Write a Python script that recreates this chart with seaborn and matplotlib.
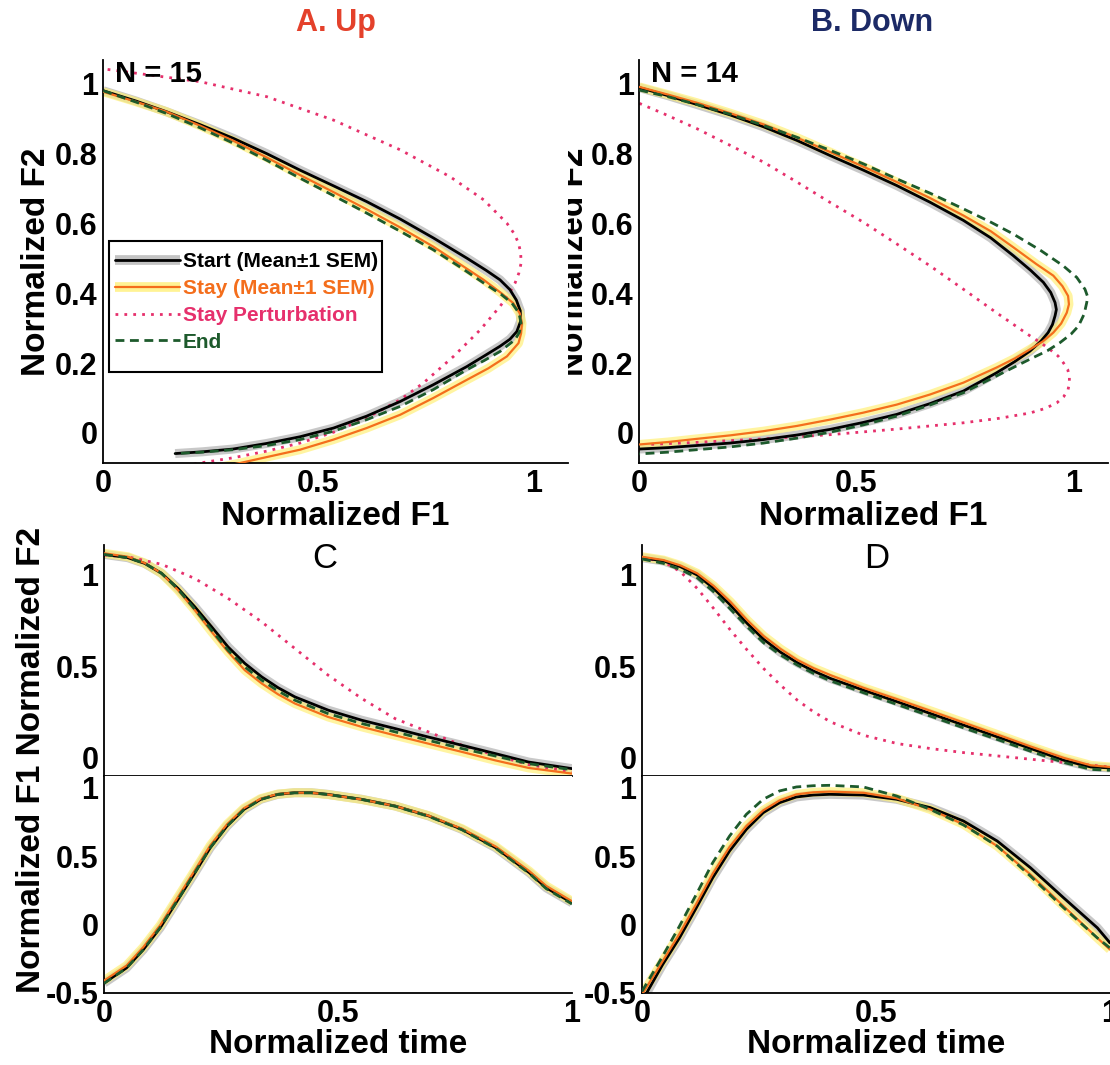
import matplotlib
matplotlib.use("Agg")
import matplotlib.pyplot as plt
from matplotlib.lines import Line2D
from matplotlib.patches import Rectangle
import seaborn as sns

# ---------------- data ----------------
# Panel A (Up): F1 vs F2 trajectories
A_start_f1 = [0, 0.075, 0.147, 0.225, 0.302, 0.380, 0.457, 0.535, 0.612, 0.690, 0.767, 0.845, 0.890, 0.922, 0.945, 0.960, 0.969, 0.970, 0.961, 0.945, 0.922, 0.885, 0.845, 0.767, 0.690, 0.612, 0.535, 0.457, 0.380, 0.302, 0.230, 0.167]
A_start_f2 = [0.979, 0.950, 0.919, 0.882, 0.843, 0.799, 0.752, 0.707, 0.662, 0.612, 0.558, 0.500, 0.465, 0.438, 0.410, 0.380, 0.350, 0.320, 0.290, 0.268, 0.248, 0.220, 0.190, 0.138, 0.090, 0.048, 0.014, -0.011, -0.030, -0.046, -0.054, -0.059]
A_stay_f1 = [0, 0.075, 0.147, 0.225, 0.302, 0.380, 0.457, 0.535, 0.612, 0.690, 0.767, 0.830, 0.884, 0.925, 0.953, 0.968, 0.973, 0.971, 0.965, 0.938, 0.895, 0.845, 0.767, 0.690, 0.612, 0.535, 0.457, 0.380, 0.318, 0.225]
A_stay_f2 = [0.976, 0.948, 0.919, 0.879, 0.836, 0.788, 0.738, 0.689, 0.640, 0.588, 0.533, 0.482, 0.438, 0.400, 0.371, 0.342, 0.314, 0.285, 0.257, 0.219, 0.185, 0.152, 0.100, 0.052, 0.014, -0.019, -0.048, -0.069, -0.086, -0.110]
A_end_f1 = [0, 0.075, 0.147, 0.225, 0.302, 0.380, 0.457, 0.535, 0.612, 0.690, 0.767, 0.830, 0.884, 0.925, 0.950, 0.966, 0.971, 0.967, 0.957, 0.922, 0.885, 0.845, 0.767, 0.690, 0.612, 0.535, 0.457, 0.380, 0.302, 0.230, 0.167]
A_end_f2 = [0.979, 0.947, 0.914, 0.873, 0.829, 0.780, 0.729, 0.679, 0.629, 0.577, 0.524, 0.474, 0.429, 0.396, 0.371, 0.343, 0.314, 0.288, 0.267, 0.233, 0.207, 0.181, 0.124, 0.076, 0.038, 0.005, -0.019, -0.036, -0.048, -0.055, -0.059]
A_pert_f1 = [0.01, 0.225, 0.380, 0.535, 0.690, 0.806, 0.884, 0.938, 0.955, 0.965, 0.970, 0.971, 0.966, 0.957, 0.942, 0.922, 0.876, 0.814, 0.744, 0.690, 0.612, 0.535, 0.457, 0.380, 0.302, 0.225, 0.186]
A_pert_f2 = [1.040, 1.005, 0.962, 0.895, 0.810, 0.733, 0.667, 0.600, 0.570, 0.543, 0.515, 0.486, 0.458, 0.429, 0.396, 0.362, 0.295, 0.219, 0.143, 0.095, 0.043, 0.002, -0.029, -0.052, -0.071, -0.086, -0.095]

# Panel B (Down)
B_start_f1 = [0, 0.066, 0.132, 0.209, 0.286, 0.363, 0.439, 0.516, 0.593, 0.670, 0.747, 0.810, 0.862, 0.902, 0.931, 0.948, 0.958, 0.961, 0.958, 0.952, 0.942, 0.925, 0.900, 0.865, 0.823, 0.747, 0.670, 0.593, 0.516, 0.439, 0.363, 0.286, 0.209, 0.132, 0.066, 0]
B_start_f2 = [0.988, 0.965, 0.940, 0.910, 0.876, 0.837, 0.794, 0.752, 0.708, 0.660, 0.608, 0.558, 0.507, 0.465, 0.431, 0.402, 0.373, 0.353, 0.335, 0.310, 0.287, 0.262, 0.234, 0.204, 0.172, 0.120, 0.084, 0.053, 0.030, 0.010, -0.006, -0.019, -0.029, -0.036, -0.042, -0.046]
B_stay_f1 = [0, 0.066, 0.132, 0.209, 0.286, 0.363, 0.439, 0.516, 0.593, 0.670, 0.747, 0.810, 0.862, 0.915, 0.954, 0.975, 0.988, 0.990, 0.985, 0.972, 0.954, 0.930, 0.900, 0.865, 0.823, 0.747, 0.670, 0.593, 0.516, 0.439, 0.363, 0.286, 0.209, 0.132, 0.066, 0]
B_stay_f2 = [0.990, 0.968, 0.945, 0.915, 0.883, 0.845, 0.804, 0.762, 0.718, 0.672, 0.622, 0.577, 0.531, 0.483, 0.450, 0.420, 0.392, 0.368, 0.344, 0.313, 0.287, 0.262, 0.239, 0.213, 0.187, 0.144, 0.110, 0.081, 0.058, 0.038, 0.020, 0.005, -0.007, -0.017, -0.026, -0.033]
B_end_f1 = [0, 0.066, 0.132, 0.209, 0.286, 0.363, 0.439, 0.516, 0.593, 0.670, 0.747, 0.810, 0.862, 0.925, 0.977, 1.008, 1.027, 1.033, 1.031, 1.025, 1.012, 0.995, 0.969, 0.940, 0.900, 0.823, 0.747, 0.670, 0.593, 0.516, 0.439, 0.363, 0.286, 0.209, 0.132, 0.066, 0]
B_end_f2 = [0.981, 0.962, 0.940, 0.912, 0.880, 0.846, 0.809, 0.770, 0.727, 0.686, 0.641, 0.603, 0.569, 0.522, 0.478, 0.445, 0.411, 0.390, 0.373, 0.340, 0.306, 0.283, 0.258, 0.235, 0.211, 0.163, 0.115, 0.080, 0.048, 0.023, 0.002, -0.015, -0.029, -0.040, -0.048, -0.055, -0.060]
B_pert_f1 = [0, 0.055, 0.132, 0.209, 0.286, 0.363, 0.439, 0.516, 0.593, 0.670, 0.747, 0.823, 0.900, 0.925, 0.946, 0.965, 0.977, 0.987, 0.991, 0.991, 0.988, 0.978, 0.962, 0.935, 0.900, 0.830, 0.747, 0.593, 0.439, 0.286, 0.132, 0.017]
B_pert_f2 = [0.943, 0.914, 0.871, 0.823, 0.775, 0.718, 0.660, 0.603, 0.541, 0.478, 0.411, 0.344, 0.278, 0.258, 0.239, 0.220, 0.201, 0.182, 0.163, 0.143, 0.124, 0.104, 0.086, 0.070, 0.057, 0.042, 0.029, 0.011, -0.005, -0.017, -0.027, -0.033]

# Panel C (Up) time courses
C_t = [0, 0.051, 0.087, 0.123, 0.158, 0.194, 0.230, 0.265, 0.301, 0.337, 0.372, 0.408, 0.479, 0.551, 0.622, 0.693, 0.765, 0.836, 0.907, 1.0]
C_f2_start = [1.107, 1.089, 1.058, 1.004, 0.922, 0.822, 0.713, 0.604, 0.514, 0.441, 0.382, 0.332, 0.260, 0.205, 0.160, 0.114, 0.069, 0.024, -0.022, -0.058]
C_f2_stay = [1.113, 1.094, 1.060, 1.004, 0.913, 0.804, 0.686, 0.577, 0.477, 0.405, 0.346, 0.296, 0.223, 0.169, 0.123, 0.078, 0.033, -0.013, -0.054, -0.085]
C_f2_end = [1.107, 1.089, 1.058, 1.004, 0.918, 0.809, 0.695, 0.586, 0.495, 0.423, 0.364, 0.314, 0.241, 0.187, 0.142, 0.096, 0.051, 0.011, -0.031, -0.064]
C_pert_t = [0, 0.051, 0.123, 0.194, 0.265, 0.337, 0.408, 0.479, 0.551, 0.622, 0.693, 0.765, 0.836, 0.907, 1.0]
C_f2_pert = [1.103, 1.094, 1.053, 0.976, 0.868, 0.740, 0.595, 0.450, 0.323, 0.214, 0.142, 0.069, 0.015, -0.036, -0.076]
C_t1 = [0, 0.048, 0.084, 0.120, 0.156, 0.192, 0.227, 0.263, 0.299, 0.335, 0.371, 0.407, 0.443, 0.478, 0.550, 0.622, 0.694, 0.765, 0.837, 0.909, 0.945, 1.0]
C_f1_start = [-0.427, -0.317, -0.183, -0.024, 0.171, 0.366, 0.561, 0.720, 0.841, 0.915, 0.951, 0.963, 0.963, 0.951, 0.915, 0.866, 0.793, 0.695, 0.561, 0.378, 0.268, 0.159]
C_f1_stay = [-0.410, -0.300, -0.165, -0.005, 0.190, 0.385, 0.578, 0.733, 0.850, 0.920, 0.953, 0.963, 0.962, 0.950, 0.914, 0.866, 0.795, 0.700, 0.570, 0.390, 0.282, 0.170]
C_f1_end = [-0.430, -0.318, -0.183, -0.022, 0.172, 0.368, 0.562, 0.720, 0.840, 0.914, 0.950, 0.962, 0.962, 0.950, 0.914, 0.864, 0.790, 0.692, 0.557, 0.373, 0.262, 0.150]

# Panel D (Down) time courses
D_t = [0, 0.046, 0.082, 0.118, 0.153, 0.189, 0.225, 0.260, 0.296, 0.332, 0.367, 0.403, 0.474, 0.546, 0.617, 0.688, 0.760, 0.831, 0.902, 0.959, 1.0]
D_f2_start = [1.089, 1.071, 1.040, 0.995, 0.922, 0.831, 0.731, 0.645, 0.575, 0.518, 0.472, 0.432, 0.368, 0.305, 0.241, 0.178, 0.114, 0.051, -0.013, -0.049, -0.054]
D_f2_stay = [1.094, 1.076, 1.047, 1.004, 0.936, 0.849, 0.749, 0.663, 0.593, 0.533, 0.488, 0.450, 0.381, 0.319, 0.256, 0.192, 0.127, 0.062, 0.000, -0.040, -0.049]
D_f2_end = [1.082, 1.058, 1.025, 0.980, 0.904, 0.809, 0.713, 0.626, 0.560, 0.505, 0.459, 0.419, 0.354, 0.290, 0.227, 0.163, 0.100, 0.036, -0.025, -0.062, -0.067]
D_pert_t = [0, 0.046, 0.082, 0.118, 0.153, 0.189, 0.225, 0.260, 0.296, 0.332, 0.367, 0.403, 0.474, 0.546, 0.617, 0.688, 0.760, 0.831, 0.902, 1.0]
D_f2_pert = [1.089, 1.067, 1.013, 0.922, 0.813, 0.695, 0.586, 0.486, 0.396, 0.314, 0.250, 0.196, 0.123, 0.078, 0.051, 0.029, 0.011, -0.007, -0.025, -0.049]
D_t1 = [0, 0.044, 0.080, 0.116, 0.151, 0.187, 0.223, 0.259, 0.294, 0.330, 0.366, 0.401, 0.473, 0.544, 0.616, 0.687, 0.759, 0.830, 0.901, 0.973, 1.0]
D_f1_start = [-0.560, -0.293, -0.098, 0.122, 0.341, 0.537, 0.695, 0.817, 0.890, 0.932, 0.946, 0.951, 0.946, 0.915, 0.854, 0.756, 0.610, 0.415, 0.195, -0.024, -0.134]
D_f1_stay = [-0.512, -0.268, -0.068, 0.151, 0.371, 0.566, 0.720, 0.834, 0.907, 0.951, 0.966, 0.971, 0.963, 0.922, 0.841, 0.732, 0.573, 0.366, 0.134, -0.098, -0.183]
D_f1_end = [-0.488, -0.232, -0.012, 0.220, 0.451, 0.646, 0.805, 0.915, 0.976, 1.005, 1.014, 1.017, 1.005, 0.939, 0.841, 0.727, 0.573, 0.354, 0.122, -0.098, -0.171]

# ticks and labels
F_ticks = [0, 0.5, 1]
F_ticklabels = ["0", "0.5", "1"]
F2_ticks = [0, 0.2, 0.4, 0.6, 0.8, 1]
F2_ticklabels = ["0", "0.2", "0.4", "0.6", "0.8", "1"]
T_ticks = [0, 0.5, 1]
T_ticklabels = ["0", "0.5", "1"]
Up_yticks = [0, 0.5, 1]
Up_yticklabels = ["0", "0.5", "1"]
Lo_yticks = [-0.5, 0, 0.5, 1]
Lo_yticklabels = ["-0.5", "0", "0.5", "1"]
legend_labels = ["Start (Mean\u00b11 SEM)", "Stay (Mean\u00b11 SEM)", "Stay Perturbation", "End"]

# ---------------- style ----------------
sns.set_theme(style="white")
plt.rcParams["font.family"] = ["Liberation Sans", "DejaVu Sans"]
plt.rcParams["axes.unicode_minus"] = False

BLACK = "#000000"
GRAY = "#9c9c9c"
ORANGE = "#f46e1c"
YELLOW = "#fff07a"
PINK = "#e6306c"
GREEN = "#1d5a2c"

STY = {
    "gband": dict(color=GRAY, linewidth=6.5, alpha=0.55, solid_capstyle="butt", solid_joinstyle="round", zorder=1),
    "yband": dict(color=YELLOW, linewidth=6.5, alpha=0.7, solid_capstyle="butt", solid_joinstyle="round", zorder=1),
    "pert": dict(color=PINK, linewidth=2.0, linestyle=(0, (1, 2.2)), zorder=2),
    "start": dict(color=BLACK, linewidth=2.0, solid_joinstyle="round", zorder=3),
    "stay": dict(color=ORANGE, linewidth=1.6, solid_joinstyle="round", zorder=3),
    "end": dict(color=GREEN, linewidth=2.0, linestyle=(0, (3.2, 2.0)), zorder=4),
}


def draw(ax, x, y, kind):
    sns.lineplot(x=x, y=y, sort=False, estimator=None, ax=ax, **STY[kind])


W, H = 1110.0, 1065.0
fig = plt.figure(figsize=(W / 100, H / 100), dpi=100)


def add_ax(l, t, r, b):
    return fig.add_axes([l / W, 1 - b / H, (r - l) / W, (b - t) / H])


# B added before A so that A's white background clips B's y label like the original
axB = add_ax(639.3, 60, 1108, 463)
axA = add_ax(103.3, 60, 568, 463)
axCu = add_ax(104, 545, 572, 776)
axCl = add_ax(104, 776, 572, 993)
axDu = add_ax(642, 545, 1110, 776)
axDl = add_ax(642, 776, 1110, 993)


def style(ax):
    ax.set_facecolor("white")
    for s in ["top", "right"]:
        ax.spines[s].set_visible(False)
    for s in ["left", "bottom"]:
        ax.spines[s].set_color("black")
        ax.spines[s].set_linewidth(1.3)
    ax.tick_params(direction="in", length=5, width=1.2, colors="black", labelsize=22, pad=4)


LBL = dict(fontsize=24, fontweight="bold", color="black")
TCK = dict(fontweight="bold", fontsize=22)

# ---- A / B ----
for ax, d, ntxt in [
    (axA, (A_start_f1, A_start_f2, A_stay_f1, A_stay_f2, A_end_f1, A_end_f2, A_pert_f1, A_pert_f2), "N = 15"),
    (axB, (B_start_f1, B_start_f2, B_stay_f1, B_stay_f2, B_end_f1, B_end_f2, B_pert_f1, B_pert_f2), "N = 14"),
]:
    sx, sy, ox, oy, ex, ey, px, py = d
    draw(ax, sx, sy, "gband")
    draw(ax, ox, oy, "yband")
    draw(ax, px, py, "pert")
    draw(ax, sx, sy, "start")
    draw(ax, ox, oy, "stay")
    draw(ax, ex, ey, "end")
    style(ax)
    ax.set_xlim(0, 1.08)
    ax.set_ylim(-0.086, 1.067)
    ax.set_xticks(F_ticks)
    ax.set_xticklabels(F_ticklabels, **TCK)
    ax.set_yticks(F2_ticks)
    ax.set_yticklabels(F2_ticklabels, **TCK)
    ax.set_xlabel("Normalized F1", labelpad=2, **LBL)
    ax.set_ylabel("Normalized F2", **LBL)
    ax.text(0.028, 1.027, ntxt, ha="left", va="center", fontsize=21, fontweight="bold", color="black", zorder=6)

axA.yaxis.set_label_coords(-0.11, 0.5)
axB.yaxis.set_label_coords(-0.105, 0.5)

# legend in A: a MATLAB-like box (extra room at the bottom) with frameless entries inside
axA.add_patch(Rectangle((0.0123, 0.2258), 0.5874, 0.3252, transform=axA.transAxes,
                        facecolor="white", edgecolor="black", linewidth=1.5, zorder=8))
h_start = (Line2D([], [], color=GRAY, linewidth=7, alpha=0.6, solid_capstyle="butt"),
           Line2D([], [], color=BLACK, linewidth=2.0))
h_stay = (Line2D([], [], color=YELLOW, linewidth=7, alpha=0.8, solid_capstyle="butt"),
          Line2D([], [], color=ORANGE, linewidth=1.6))
h_pert = Line2D([], [], color=PINK, linewidth=2.0, linestyle=(0, (1, 2.2)))
h_end = Line2D([], [], color=GREEN, linewidth=2.0, linestyle=(0, (3.2, 2.0)))
leg = axA.legend([h_start, h_stay, h_pert, h_end], legend_labels,
                 loc="upper left", bbox_to_anchor=(0.0123, 0.539), borderaxespad=0,
                 prop=dict(weight="bold", size=15), handlelength=3.1, handletextpad=0.15,
                 labelspacing=0.38, borderpad=0.3, frameon=False)
leg.set_zorder(9)
for t, c in zip(leg.get_texts(), [BLACK, ORANGE, PINK, GREEN]):
    t.set_color(c)

# ---- C / D ----
for axu, axl, d in [
    (axCu, axCl, (C_t, C_f2_start, C_f2_stay, C_f2_end, C_pert_t, C_f2_pert, C_t1, C_f1_start, C_f1_stay, C_f1_end)),
    (axDu, axDl, (D_t, D_f2_start, D_f2_stay, D_f2_end, D_pert_t, D_f2_pert, D_t1, D_f1_start, D_f1_stay, D_f1_end)),
]:
    t, s2, o2, e2, pt, p2, t1, s1, o1, e1 = d
    draw(axu, t, s2, "gband")
    draw(axu, t, o2, "yband")
    draw(axu, pt, p2, "pert")
    draw(axu, t, s2, "start")
    draw(axu, t, o2, "stay")
    draw(axu, t, e2, "end")
    draw(axl, t1, s1, "gband")
    draw(axl, t1, o1, "yband")
    draw(axl, t1, s1, "start")
    draw(axl, t1, o1, "stay")
    draw(axl, t1, e1, "end")
    for ax in (axu, axl):
        style(ax)
        ax.set_xlim(0, 1)
        ax.set_ylabel("")
    axu.set_ylim(-0.098, 1.158)
    axl.set_ylim(-0.5, 1.085)
    axu.set_xticks([])
    axu.set_xlabel("")
    axu.set_yticks(Up_yticks)
    axu.set_yticklabels(Up_yticklabels, **TCK)
    axl.set_yticks(Lo_yticks)
    axl.set_yticklabels(Lo_yticklabels, **TCK)
    axl.set_xticks(T_ticks)
    axl.set_xticklabels(T_ticklabels, **TCK)
    axl.set_xlabel("Normalized time", labelpad=0, **LBL)

# shared y label of panel C (lower: F1, upper: F2)
fig.text(32 / W, 1 - 760 / H, "Normalized F1 Normalized F2", rotation=90,
         ha="center", va="center", **LBL)

# titles
fig.text(336 / W, 1 - 23 / H, "A. Up", ha="center", va="center", fontsize=22, fontweight="bold", color="#e4412b")
fig.text(872 / W, 1 - 23 / H, "B. Down", ha="center", va="center", fontsize=22, fontweight="bold", color="#1c2a66")
fig.text(325 / W, 1 - 559 / H, "C", ha="center", va="center", fontsize=25, color="black")
fig.text(877 / W, 1 - 559 / H, "D", ha="center", va="center", fontsize=25, color="black")

fig.savefig("out.png", dpi=100)
